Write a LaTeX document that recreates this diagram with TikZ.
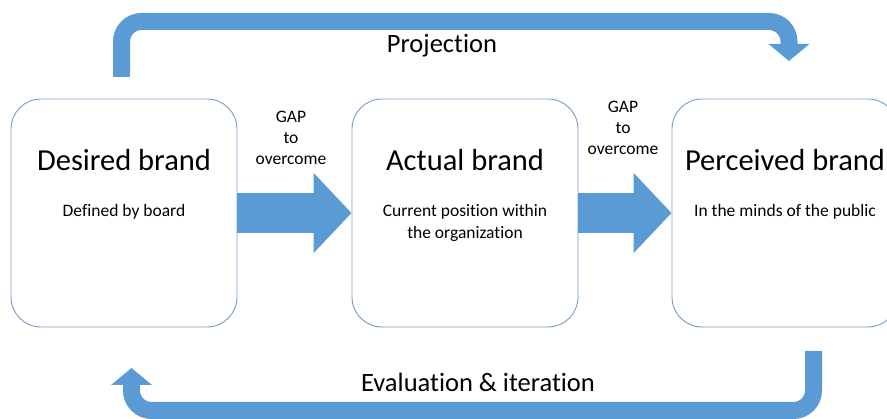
\documentclass[tikz,border=0pt]{standalone}
\usepackage{fontspec}
\setmainfont{Carlito}[Ligatures=NoCommon]
\usetikzlibrary{arrows.meta}
\usetikzlibrary{positioning, calc}
\definecolor{arrowblue}{RGB}{91,155,213}
\definecolor{boxline}{RGB}{120,155,195}
\tikzset{
  brand/.style={draw=boxline,line width=0.9,rounded corners=30,minimum width=226,minimum height=228,inner sep=0},
  brand title/.style={font=\fontsize{30.5}{36}\selectfont,inner sep=0},
  brand note/.style={font=\fontsize{17.5}{22}\selectfont,align=center,inner sep=0},
  gap text/.style={font=\fontsize{17.5}{21}\selectfont,align=center,inner sep=0},
  gap arrow/.style={arrowblue,line width=40,-{Triangle[width=78,length=38]}},
  loop arrow/.style={arrowblue,line width=17,rounded corners=20,-{Triangle[width=40,length=17]}},
  loop text/.style={font=\fontsize{26.5}{30}\selectfont,inner sep=0}
}

\begin{document}
\begin{tikzpicture}[x=1pt,y=-1pt]
\path[use as bounding box] (0,0) rectangle (887,419);
\clip (0,0) rectangle (887,419);
%
% the three brand boxes
\node[brand] (desired) at (124,213) {};
\node[brand] (actual) at (465,213) {};
\node[brand] (perceived) at (785,213) {};
\node[brand title] (desired title) at ([yshift=-61]desired.north) {Desired brand};
\node[brand title] (actual title) at ([yshift=-61]actual.north) {Actual brand};
\node[brand title] (perceived title) at ([yshift=-61]perceived.north) {Perceived brand};
\node[brand note] (desired note) at ([yshift=-113]desired.north) {Defined by board};
\node[brand note,anchor=north] (actual note) at ([yshift=-106]actual.north) {Current position within\\the organization};
\node[brand note] (perceived note) at ([yshift=-113]perceived.north) {In the minds of the public};
%
% gaps between them
\draw[gap arrow] (desired) -- (actual);
\draw[gap arrow] (actual) -- (perceived);
\node[gap text] (gap1) at (291,138) {GAP\\to\\overcome};
\node[gap text] (gap2) at (623,128) {GAP\\to\\overcome};
%
% loops over and under
\coordinate (proj start) at (121.5,77);
\coordinate (proj end) at (789,61);
\coordinate (eval start) at (813.5,351);
\coordinate (eval end) at (131.5,368);
\draw[loop arrow] (proj start) |- (789,21.5) -- (proj end);
\draw[loop arrow] (eval start) |- (131.5,410.5) -- (eval end);
\node[loop text] (projection) at (442,46) {Projection};
\node[loop text] (evaluation) at (478,382) {Evaluation \& iteration};
\end{tikzpicture}
\end{document}
